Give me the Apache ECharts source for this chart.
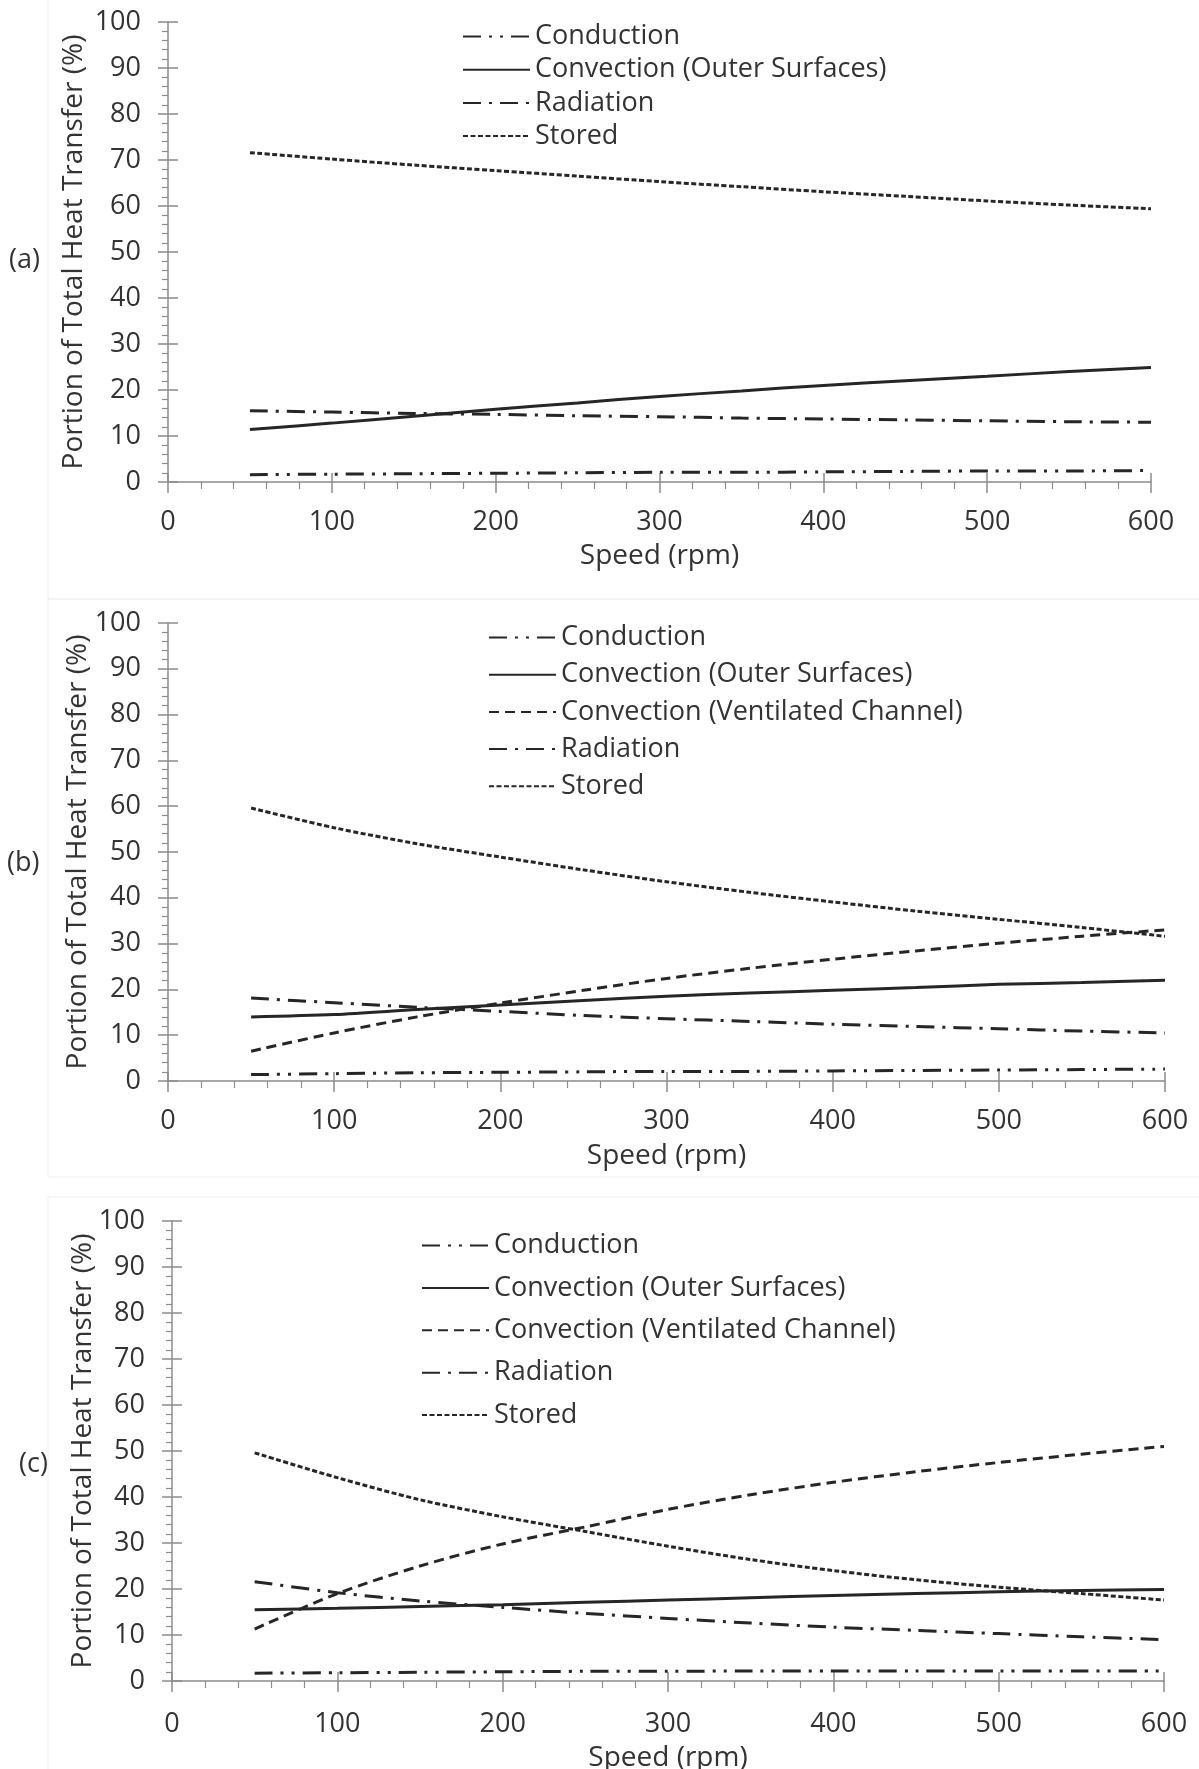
<!DOCTYPE html>
<html>
<head>
<meta charset="utf-8">
<script src="https://cdn.jsdelivr.net/npm/echarts@6/dist/echarts.min.js"></script>
<style>
  html, body { margin: 0; padding: 0; background: #ffffff; }
  #chart { width: 1199px; height: 1769px; }
</style>
</head>
<body>
<div id="chart"></div>
<script>
// Rotational speed (rpm) at which each case was evaluated
const speeds = [50, 100, 150, 200, 250, 300, 350, 400, 450, 500, 550, 600];

// Axis ticks
const xTicks = { min: 0, max: 600, interval: 100 };
const yTicks = { min: 0, max: 100, interval: 10 };

// Series names
const NAME_COND = 'Conduction';
const NAME_CONV_OUT = 'Convection (Outer Surfaces)';
const NAME_CONV_VENT = 'Convection (Ventilated Channel)';
const NAME_RAD = 'Radiation';
const NAME_STORED = 'Stored';

// (a) share of total heat transfer, %
const condA    = [1.6, 1.7, 1.8, 1.9, 2.0, 2.1, 2.1, 2.2, 2.3, 2.4, 2.4, 2.5];
const convOutA = [11.4, 12.8, 14.3, 15.8, 17.2, 18.6, 19.8, 21.0, 22.0, 23.0, 24.0, 24.9];
const radA     = [15.5, 15.2, 14.9, 14.7, 14.4, 14.2, 13.9, 13.7, 13.5, 13.3, 13.1, 13.0];
const storedA  = [71.6, 70.2, 68.9, 67.7, 66.5, 65.3, 64.2, 63.1, 62.1, 61.1, 60.2, 59.4];

// (b)
const condB     = [1.4, 1.6, 1.8, 1.9, 2.0, 2.1, 2.1, 2.2, 2.3, 2.4, 2.5, 2.6];
const convOutB  = [14.0, 14.5, 15.6, 16.6, 17.6, 18.5, 19.2, 19.8, 20.4, 21.1, 21.5, 22.0];
const convVentB = [6.5, 10.5, 14.0, 17.0, 19.8, 22.4, 24.6, 26.6, 28.4, 30.1, 31.6, 33.0];
const radB      = [18.1, 17.1, 16.1, 15.2, 14.3, 13.6, 13.0, 12.4, 11.9, 11.4, 10.9, 10.5];
const storedB   = [59.6, 55.3, 51.8, 48.9, 46.1, 43.5, 41.2, 39.1, 37.1, 35.3, 33.5, 31.6];

// (c)
const condC     = [1.7, 1.8, 1.9, 2.0, 2.1, 2.1, 2.2, 2.2, 2.2, 2.2, 2.2, 2.2];
const convOutC  = [15.5, 15.8, 16.2, 16.6, 17.1, 17.6, 18.1, 18.6, 19.0, 19.4, 19.7, 19.9];
const convVentC = [11.3, 19.0, 25.0, 29.8, 33.5, 37.3, 40.5, 43.2, 45.5, 47.5, 49.3, 51.0];
const radC      = [21.6, 19.2, 17.4, 16.0, 14.7, 13.6, 12.6, 11.7, 11.0, 10.3, 9.6, 9.0];
const storedC   = [49.6, 44.2, 39.4, 35.7, 32.5, 29.3, 26.4, 24.0, 22.0, 20.4, 19.0, 17.6];

const FONT = '"Open Sans", "Noto Sans", sans-serif';
const TEXT = '#333333';
const AXIS = '#8c8c8c';
const INK = '#262626';
const FS = 27;       // tick label size
const FS_NAME = 28;  // axis title size
const FS_LEG = 27;   // legend text size

// line patterns per quantity
const DASH = {};
DASH[NAME_COND] = [18, 8, 3, 8, 3, 8];
DASH[NAME_CONV_OUT] = 'solid';
DASH[NAME_CONV_VENT] = [10, 6];
DASH[NAME_RAD] = [18, 8, 3, 8];
DASH[NAME_STORED] = [5, 2.5];

const panels = [
  {
    tag: '(a)', tagPos: { left: 9, top: 247 },
    grid: { left: 168, top: 22, width: 983, height: 460 },
    nameGapY: 80, labelMarginX: 27, nameGapX: 60,
    legend: { left: 462, top: 23, gap: 6.2 },
    series: [[NAME_COND, condA], [NAME_CONV_OUT, convOutA], [NAME_RAD, radA], [NAME_STORED, storedA]]
  },
  {
    tag: '(b)', tagPos: { left: 7, top: 850 },
    grid: { left: 168, top: 623, width: 997, height: 458 },
    nameGapY: 76, labelMarginX: 27, nameGapX: 61,
    legend: { left: 488, top: 624, gap: 10.2 },
    series: [[NAME_COND, condB], [NAME_CONV_OUT, convOutB], [NAME_CONV_VENT, convVentB], [NAME_RAD, radB], [NAME_STORED, storedB]]
  },
  {
    tag: '(c)', tagPos: { left: 19, top: 1451 },
    grid: { left: 172, top: 1221, width: 992, height: 460 },
    nameGapY: 75, labelMarginX: 30, nameGapX: 63,
    legend: { left: 421, top: 1232, gap: 15.4 },
    series: [[NAME_COND, condC], [NAME_CONV_OUT, convOutC], [NAME_CONV_VENT, convVentC], [NAME_RAD, radC], [NAME_STORED, storedC]]
  }
];

const option = {
  backgroundColor: '#ffffff',
  animation: false,
  textStyle: { fontFamily: FONT },
  title: [],
  grid: [],
  legend: [],
  xAxis: [],
  yAxis: [],
  series: [],
  graphic: []
};

// faint frame around each panel
const frames = [
  { x: 48, y: -2, width: 1160, height: 601 },
  { x: 48, y: 599, width: 1160, height: 578 },
  { x: 48, y: 1197, width: 1160, height: 580 }
];
frames.forEach(f => option.graphic.push({
  type: 'rect', shape: f, silent: true,
  style: { fill: 'none', stroke: '#efefef', lineWidth: 1 }
}));

panels.forEach((p, i) => {
  option.title.push({
    text: p.tag, left: p.tagPos.left, top: p.tagPos.top, padding: 0,
    textStyle: { fontFamily: FONT, fontSize: FS, fontWeight: 'normal', color: TEXT }
  });
  option.grid.push(Object.assign({ containLabel: false, outerBoundsMode: 'none' }, p.grid));

  // primary axes: labels, outward ticks, minor ticks
  option.xAxis.push({
    gridIndex: i, type: 'value', min: xTicks.min, max: xTicks.max, interval: xTicks.interval,
    name: 'Speed (rpm)', nameLocation: 'middle', nameGap: p.nameGapX, nameMoveOverlap: false,
    nameTextStyle: { fontFamily: FONT, fontSize: FS_NAME, color: TEXT },
    axisLine: { show: true, lineStyle: { color: AXIS, width: 1.5 } },
    axisTick: { show: true, length: 11, lineStyle: { color: AXIS, width: 1.5 } },
    minorTick: { show: true, splitNumber: 5, length: 7, lineStyle: { color: AXIS, width: 1.2 } },
    axisLabel: { fontFamily: FONT, fontSize: FS, color: TEXT, margin: p.labelMarginX },
    splitLine: { show: false }
  });
  option.yAxis.push({
    gridIndex: i, type: 'value', min: yTicks.min, max: yTicks.max, interval: yTicks.interval,
    name: 'Portion of Total Heat Transfer (%)', nameLocation: 'middle', nameGap: p.nameGapY,
    nameMoveOverlap: false,
    nameTextStyle: { fontFamily: FONT, fontSize: FS_NAME, color: TEXT },
    axisLine: { show: true, lineStyle: { color: AXIS, width: 1.5 } },
    axisTick: { show: true, length: 10, lineStyle: { color: AXIS, width: 1.5 } },
    minorTick: { show: true, splitNumber: 5, length: 6, lineStyle: { color: AXIS, width: 1.2 } },
    axisLabel: { fontFamily: FONT, fontSize: FS, color: TEXT, margin: 27 },
    splitLine: { show: false }
  });
});

// secondary axes: inward half of the crossing major ticks
panels.forEach((p, i) => {
  option.xAxis.push({
    gridIndex: i, type: 'value', min: xTicks.min, max: xTicks.max, interval: xTicks.interval,
    position: 'bottom',
    axisLine: { show: false },
    axisTick: { show: true, inside: true, length: 9, lineStyle: { color: AXIS, width: 1.5 } },
    axisLabel: { show: false }, splitLine: { show: false }
  });
  option.yAxis.push({
    gridIndex: i, type: 'value', min: yTicks.min, max: yTicks.max, interval: yTicks.interval,
    position: 'left',
    axisLine: { show: false },
    axisTick: { show: true, inside: true, length: 10, lineStyle: { color: AXIS, width: 1.5 } },
    axisLabel: { show: false }, splitLine: { show: false }
  });
});

panels.forEach((p, i) => {
  option.legend.push({
    orient: 'vertical', left: p.legend.left, top: p.legend.top, padding: 0,
    itemWidth: 67, itemHeight: 14, itemGap: p.legend.gap,
    selectedMode: false,
    itemStyle: { color: 'rgba(0,0,0,0)', borderColor: 'rgba(0,0,0,0)', borderWidth: 0, opacity: 0 },
    data: p.series.map(s => s[0]),
    textStyle: { fontFamily: FONT, fontSize: FS_LEG, color: TEXT, lineHeight: 26 }
  });
  p.series.forEach(([name, values]) => {
    option.series.push({
      name: name, type: 'line', xAxisIndex: i, yAxisIndex: i,
      data: speeds.map((s, k) => [s, values[k]]),
      symbol: 'none', showSymbol: false, smooth: 0.3,
      lineStyle: { color: INK, width: 3, type: DASH[name], cap: 'butt' },
      itemStyle: { color: INK },
      emphasis: { disabled: true }
    });
  });
});

const chart = echarts.init(document.getElementById('chart'), null, { renderer: 'canvas' });
chart.setOption(option);
</script>
</body>
</html>
